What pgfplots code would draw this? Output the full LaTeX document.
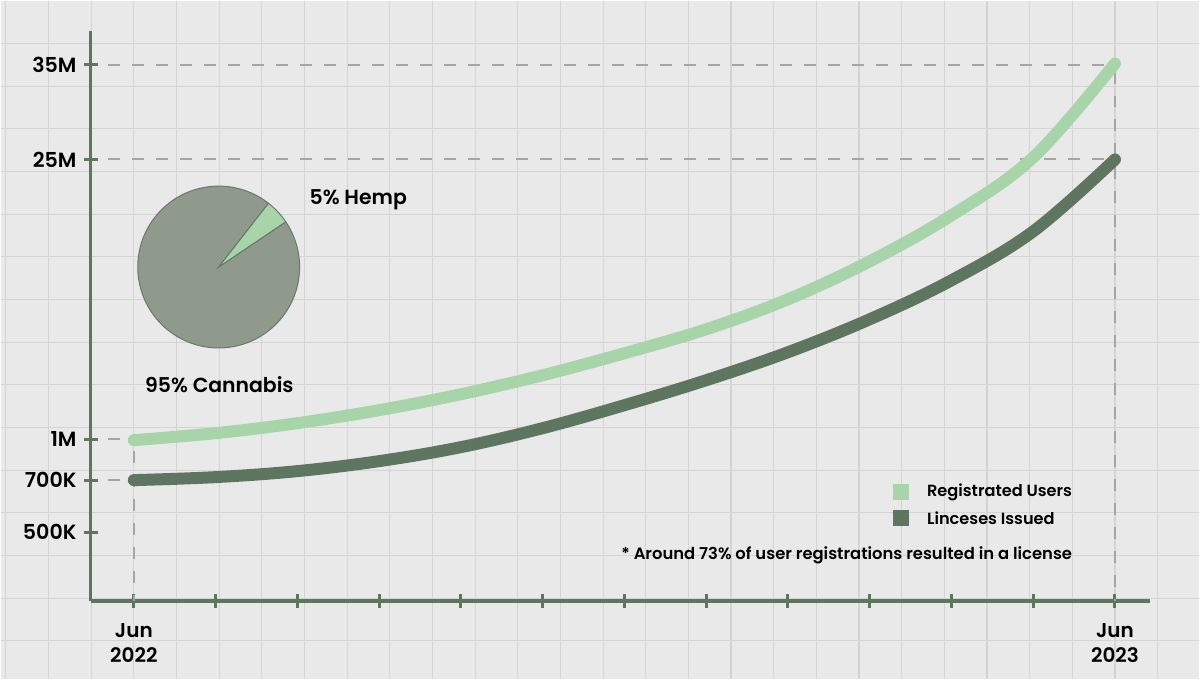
\documentclass[border=0pt]{standalone}
\usepackage{pgfplots}
\pgfplotsset{compat=1.18}
\usepackage{fontspec}
\setmainfont{Poppins}[UprightFont={* SemiBold}]
\definecolor{bg}{HTML}{E9E9E9}
\definecolor{gridc}{HTML}{D4D4D4}
\definecolor{axc}{HTML}{5E7660}
\definecolor{lightg}{HTML}{A8D4AA}
\definecolor{darkg}{HTML}{5E7660}
\definecolor{piec}{HTML}{8F9A8C}
\definecolor{pieedge}{HTML}{68786A}
\definecolor{dashc}{HTML}{A5A5A5}
% values: month index (0 = Jun 2022 ... 12 = Jun 2023), position on the chart's own (non-linear) scale
\pgfplotstableread{
m pos
0 161
1 168
2 178
3 191
4 207
5 226
6 248
7 272
8 302
9 340
10 386
11 444
12 538
}\usersdata
\pgfplotstableread{
m pos
0 121
1 124
2 130
3 140
4 154
5 173
6 196
7 221
8 249
9 282
10 321
11 370
12 442
}\licdata
\def\hempshare{5}
\def\cannshare{95}
\begin{document}
\begin{tikzpicture}
\begin{scope}[x=0.5pt,y=-0.5pt]
\fill[bg] (0,0) rectangle (1200,679);
\foreach \i in {0,...,27} \draw[gridc, line width=0.6pt] ({5.3+42.7*\i},0) -- ({5.3+42.7*\i},679);
\foreach \j in {1,...,15} \draw[gridc, line width=0.6pt] (0,{0.3+42.7*\j}) -- (1200,{0.3+42.7*\j});
\end{scope}
\begin{axis}[
  at={(45pt,-300.5pt)}, anchor=south west,
  scale only axis, width=530.5pt, height=285.5pt,
  xmin=-0.530, xmax=12.434, ymin=0, ymax=571,
  axis lines=left,
  axis line style={axc, line width=1.75pt, -},
  xtick={0,...,12},
  xticklabels={Jun\\2022,,,,,,,,,,,,Jun\\2023},
  xticklabel style={align=center, font=\fontsize{10}{12.5}\selectfont, text=black, yshift=-4.5pt},
  ytick={69,121,162,442,537},
  yticklabels={500K,700K,1M,25M,35M},
  yticklabel style={font=\fontsize{10.3}{12}\selectfont, text=black},
  tick style={axc, line width=1.5pt},
  tick align=center,
  major tick length=7pt,
  clip=false,
]
\draw[dashc, line width=1pt, dash pattern=on 6pt off 6pt] (axis cs:-0.31,537) -- (axis cs:12,537);
\draw[dashc, line width=1pt, dash pattern=on 6pt off 6pt] (axis cs:-0.31,442) -- (axis cs:12,442);
\draw[dashc, line width=1pt, dash pattern=on 6pt off 6pt] (axis cs:-0.31,162) -- (axis cs:0,162);
\draw[dashc, line width=1pt, dash pattern=on 6pt off 6pt] (axis cs:-0.31,121) -- (axis cs:0,121);
\draw[dashc, line width=1pt, dash pattern=on 6pt off 6pt] (axis cs:0,150) -- (axis cs:0,0);
\draw[dashc, line width=1pt, dash pattern=on 6pt off 6pt] (axis cs:12,530) -- (axis cs:12,0);
\addplot[darkg, line width=6pt, line cap=round, smooth, tension=0.6] table[x=m,y=pos] {\licdata};
\addplot[lightg, line width=6pt, line cap=round, smooth, tension=0.6] table[x=m,y=pos] {\usersdata};
\end{axis}
% pie chart
\begin{scope}[shift={(109.15pt,-133.35pt)}]
\pgfmathsetmacro\sa{34}
\pgfmathsetmacro\sb{34+3.6*\hempshare}
\pgfmathsetmacro\sc{\sb+3.6*\cannshare}
\filldraw[fill=piec, draw=pieedge, line width=0.5pt] (0,0) -- (\sb:40.5pt) arc[start angle=\sb, end angle=\sc, radius=40.5pt] -- cycle;
\filldraw[fill=lightg, draw=pieedge, line width=0.5pt] (0,0) -- (\sa:40.5pt) arc[start angle=\sa, end angle=\sb, radius=40.5pt] -- cycle;
\end{scope}
\begin{scope}[x=0.5pt,y=-0.5pt]
\node[font=\fontsize{10.2}{12}\selectfont] at (358,199) {5\% Hemp};
\node[font=\fontsize{10.2}{12}\selectfont] at (219,384) {95\% Cannabis};
\fill[lightg] (893,484) rectangle (909,500);
\fill[darkg] (893,510) rectangle (909,526);
\node[anchor=west, font=\fontsize{8.1}{10}\selectfont, inner sep=0pt] at (927,492) {Registrated Users};
\node[anchor=west, font=\fontsize{8.1}{10}\selectfont, inner sep=0pt] at (927,518) {Linceses Issued};
\node[anchor=west, font=\fontsize{8.2}{10}\selectfont, inner sep=0pt] at (621,555) {* Around 73\% of user registrations resulted in a license};
\end{scope}
\end{tikzpicture}
\end{document}
